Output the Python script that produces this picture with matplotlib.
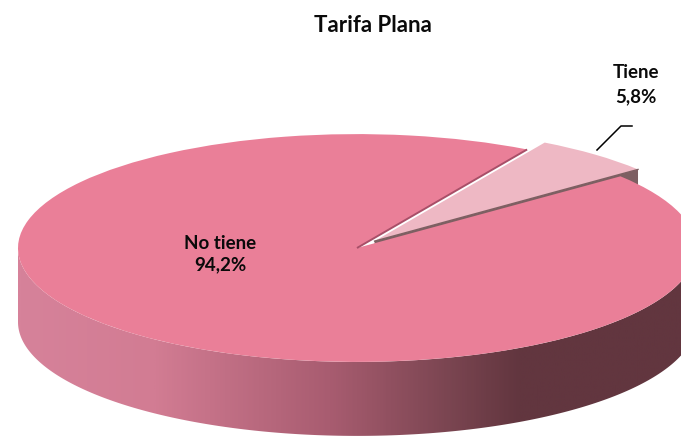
import numpy as np
import matplotlib
matplotlib.use('Agg')
import matplotlib.pyplot as plt
from matplotlib.colors import LinearSegmentedColormap
from matplotlib.patches import Polygon

# data
categories = ['Tiene', 'No tiene']
shares = [5.8, 94.2]
title = 'Tarifa Plana'

W, H = 681, 436
SQUASH = 0.336
cx, cy, rad = 357, 248, 339
depth = 74

def py(p):
    # picture row to data y (the disc is drawn flat, then squashed by the axis limits)
    return (H - p) / SQUASH

def make_label(name, val):
    return name + '\n' + ('%.1f%%' % val).replace('.', ',')

fig = plt.figure(figsize=(W / 100, H / 100), dpi=100)
ax = fig.add_axes([0, 0, 1, 1])

# explode is in data units here, not a fraction of the radius
wedges, _ = ax.pie(shares, startangle=39, radius=rad, center=(cx, py(cy)),
                   explode=[27, 0], colors=['#eeb8c4', '#ea7f98'],
                   wedgeprops={'linewidth': 0})
ax.set_aspect('auto')
ax.set_xlim(0, W)
ax.set_ylim(0, H / SQUASH)
ax.axis('off')
wedges[0].set_zorder(4)
wedges[1].set_zorder(5)

# front wall of the big slice, shaded left to right
d = depth / SQUASH
t = np.radians(np.linspace(180, 360, 200))
top = np.c_[cx + rad * np.cos(t), py(cy) + rad * np.sin(t)]
wall = Polygon(np.r_[top, (top - [0, d])[::-1]], closed=True, transform=ax.transData,
               facecolor='none', edgecolor='none')
ax.add_patch(wall)
shade = LinearSegmentedColormap.from_list('shade', [
    (0.0, '#d6829a'), (0.2, '#d27c93'), (0.46, '#a85c70'),
    (0.63, '#7c4652'), (0.74, '#62363f'), (1.0, '#62363f')])
img = ax.imshow(np.linspace(0, 1, 400).reshape(1, -1), cmap=shade, aspect='auto',
                extent=(cx - rad, cx + rad, py(cy) - rad - d, py(cy) + rad), zorder=2)
img.set_clip_path(wall)
ax.set_xlim(0, W)
ax.set_ylim(0, H / SQUASH)

# cut face of the pulled out slice
a0 = np.radians(wedges[0].theta1)
sx, sy = wedges[0].center
corner = (sx + rad * np.cos(a0), sy + rad * np.sin(a0))
ax.add_patch(Polygon([(sx, sy), corner, (corner[0], corner[1] - d), (sx, sy - d)],
                     closed=True, facecolor='#7d5f62', edgecolor='none', zorder=3))

# dark rims along the slice edges
a1 = np.radians(wedges[1].theta1)
mx, my = wedges[1].center
ax.plot([mx, mx + rad * np.cos(a1)], [my, my + rad * np.sin(a1)],
        color='#a84f68', lw=1.4, zorder=6, solid_capstyle='butt')
ax.plot([sx, corner[0]], [sy, corner[1]], color='#7d5f62', lw=1.0, zorder=6)

# leader line
ax.plot([597, 621, 632], [py(150), py(126), py(126)], color='black', lw=1.1, zorder=7)

font = {'family': 'Lato', 'weight': 'bold', 'color': '#0a0a0a', 'ha': 'center', 'va': 'center'}
ax.text(373, py(25), title, fontsize=16, **font)
ax.text(636, py(85), make_label(categories[0], shares[0]), fontsize=13.5, linespacing=1.5, zorder=8, **font)
ax.text(220, py(254), make_label(categories[1], shares[1]), fontsize=13.5, linespacing=1.3, zorder=8, **font)

fig.savefig('out.png', dpi=100)
